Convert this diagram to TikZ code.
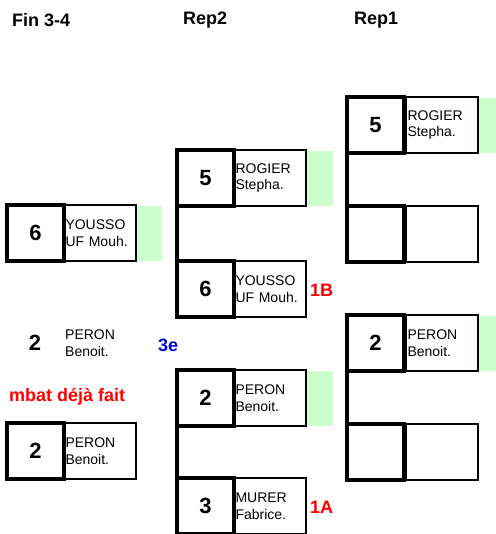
\documentclass[tikz,border=0pt]{standalone}
\usepackage{fontspec}
\setmainfont{Liberation Sans}
\definecolor{wingreen}{HTML}{CCFFCC}
\definecolor{tagblue}{HTML}{0000CC}
\tikzset{
  numcell/.style={draw, line width=4pt, outer sep=0pt, inner sep=0pt, anchor=north west,
    minimum width=57pt, minimum height=56pt, font=\fontsize{22}{24}\selectfont\bfseries},
  namecell/.style={draw, line width=2.5pt, outer sep=0pt, inner xsep=1.5pt, anchor=north west,
    minimum width=72pt, minimum height=56pt, text width=69pt, align=left,
    font=\fontsize{14}{16.5}\selectfont},
  wincell/.style={fill=wingreen, outer sep=0pt, inner sep=0pt, anchor=north west,
    minimum width=26pt, minimum height=55pt},
  head/.style={anchor=west, inner sep=0pt, font=\fontsize{18}{20}\selectfont\bfseries},
  tag/.style={anchor=west, inner sep=0pt, font=\fontsize{18}{20}\selectfont\bfseries},
  bracket/.style={line width=4pt}
}
\begin{document}
\begin{tikzpicture}[x=1pt,y=-1pt]
\useasboundingbox (0,0) rectangle (495,534);
% headers
\node[head] (hfin) at (12,20) {Fin 3-4};
\node[head] (hrep2) at (183,20) {Rep2};
\node[head] (hrep1) at (354,20) {Rep1};
% Fin 3-4
\node[wincell] (f1win) at (136,206) {};
\node[namecell] (f1name) at (64,205) {YOUSSO\\UF Mouh.};
\node[numcell] (f1num) at (7,205) {6};
\node[inner sep=0pt, font=\fontsize{22}{24}\selectfont\bfseries] (f3num) at (35,343) {2};
\node[anchor=west, inner sep=0pt, align=left, font=\fontsize{14}{16.5}\selectfont] (f3name) at (65,343) {PERON\\Benoit.};
\node[tag, tagblue] (f3rank) at (158,345) {3e};
\node[tag, red] (fnote) at (9,397) {mbat déjà fait};
\node[namecell] (f2name) at (64,423) {PERON\\Benoit.};
\node[numcell] (f2num) at (7,423) {2};
% Rep2
\node[wincell] (r2awin) at (307,151) {};
\node[namecell] (r2aname) at (234,150) {ROGIER\\Stepha.};
\node[numcell] (r2anum) at (177,150) {5};
\node[namecell] (r2bname) at (234,261) {YOUSSO\\UF Mouh.};
\node[numcell] (r2bnum) at (177,261) {6};
\node[tag, red] (r2btag) at (310,290) {1B};
\draw[bracket] (r2anum.south west) -- (r2bnum.north west);
\node[wincell] (r2cwin) at (307,371) {};
\node[namecell] (r2cname) at (234,370) {PERON\\Benoit.};
\node[numcell] (r2cnum) at (177,370) {2};
\node[namecell] (r2dname) at (234,478) {MURER\\Fabrice.};
\node[numcell] (r2dnum) at (177,478) {3};
\node[tag, red] (r2dtag) at (310,507) {1A};
\draw[bracket] (r2cnum.south west) -- (r2dnum.north west);
% Rep1
\node[wincell] (r1awin) at (477,98) {};
\node[namecell] (r1aname) at (406,97) {ROGIER\\Stepha.};
\node[numcell] (r1anum) at (347,97) {5};
\node[namecell] (r1bname) at (406,206) {};
\node[numcell] (r1bnum) at (347,206) {};
\draw[bracket] (r1anum.south west) -- (r1bnum.north west);
\node[wincell] (r1cwin) at (477,316) {};
\node[namecell] (r1cname) at (406,315) {PERON\\Benoit.};
\node[numcell] (r1cnum) at (347,315) {2};
\node[namecell] (r1dname) at (406,424) {};
\node[numcell] (r1dnum) at (347,424) {};
\draw[bracket] (r1cnum.south west) -- (r1dnum.north west);
\end{tikzpicture}
\end{document}
